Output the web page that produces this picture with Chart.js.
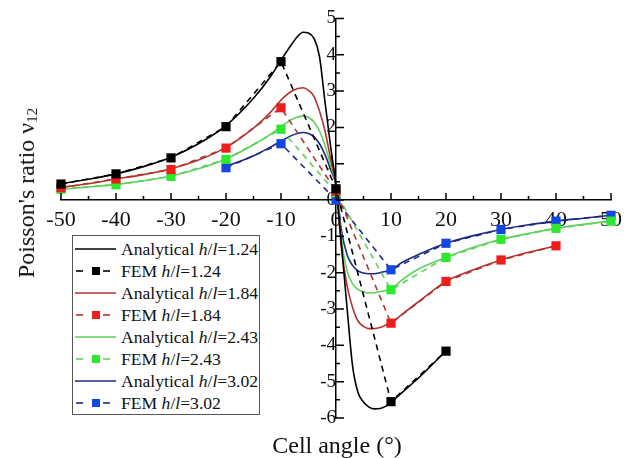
<!DOCTYPE html>
<html>
<head>
<meta charset="utf-8">
<script src="https://cdn.jsdelivr.net/npm/chart.js@4.4.0/dist/chart.umd.min.js"></script>
<style>
  body { margin: 0; background: #fff; }
  #wrap { position: relative; width: 632px; height: 458px; font-family: 'Liberation Serif', serif; }
  #chart { position: absolute; left: 0; top: 0; }
  .title { position: absolute; white-space: nowrap; font-size: 24px; color: #111; }
  #ytitle { left: 27px; top: 193px; transform: translate(-50%, -50%) rotate(-90deg); }
  #ytitle sub { font-size: 15px; vertical-align: -3px; }
  #xtitle { left: 337px; top: 445px; transform: translate(-50%, -50%); }
  #legend { position: absolute; left: 72px; top: 235px; width: 188px; height: 180px; box-sizing: border-box;
            border: 1px solid #555; background: #fff; padding-top: 2px; }
  .row { height: 22px; display: flex; align-items: center; font-size: 17.6px; color: #111; }
  .row svg { margin-left: 2px; margin-right: 5px; flex: none; }
</style>
</head>
<body>
<div id="wrap">
  <canvas id="chart" width="632" height="458"></canvas>
  <div id="ytitle" class="title">Poisson's ratio ν<sub>12</sub></div>
  <div id="xtitle" class="title">Cell angle (°)</div>
  <div id="legend"></div>
</div>
<script>
(function () {
  'use strict';

  /* ------------ 데이터 ------------ */
  const ratios = ['1.24', '1.84', '2.43', '3.02'];

  // FEM 결과 (사각형 + 점선)
  const femAngles124 = [-50, -40, -30, -20, -10, 0, 10, 20];
  const femNu124 = [0.44, 0.72, 1.16, 2.02, 3.81, 0.31, -5.55, -4.16];
  const femAngles184 = [-50, -40, -30, -20, -10, 0, 10, 20, 30, 40];
  const femNu184 = [0.34, 0.58, 0.84, 1.43, 2.54, 0.25, -3.39, -2.24, -1.65, -1.26];
  const femAngles243 = [-50, -40, -30, -20, -10, 0, 10, 20, 30, 40, 50];
  const femNu243 = [0.3, 0.42, 0.65, 1.12, 1.95, 0.2, -2.47, -1.58, -1.08, -0.78, -0.58];
  const femAngles302 = [-20, -10, 0, 10, 20, 30, 40, 50];
  const femNu302 = [0.89, 1.55, 0, -1.92, -1.19, -0.81, -0.58, -0.42];

  // 해석해 (실선)
  const anaAngles124 = [-50, -45, -40, -35, -30, -25, -20, -15, -12, -10, -8, -7, -6, -5, -4, -3, -2, -1, 0,
                        1, 2, 3, 4, 5, 6, 7, 8, 9, 10, 12, 15, 20];
  const anaNu124 = [0.45, 0.57, 0.72, 0.92, 1.18, 1.55, 2.05, 2.8, 3.38, 3.85, 4.3, 4.5, 4.62, 4.6, 4.45, 3.95, 2.7, 1.5, 0.4,
                    -1.25, -2.95, -4.55, -5.3, -5.56, -5.7, -5.75, -5.74, -5.68, -5.58, -5.3, -4.9, -4.15];
  const anaAngles184 = [-50, -45, -40, -35, -30, -25, -20, -15, -12, -10, -8, -6, -5, -4, -3, -2, -1, 0,
                        1, 2, 3, 4, 5, 6, 7, 8, 9, 10, 12, 15, 20, 25, 30, 35, 40];
  const anaNu184 = [0.35, 0.45, 0.58, 0.7, 0.86, 1.1, 1.45, 1.98, 2.4, 2.75, 3.0, 3.09, 3.02, 2.85, 2.45, 1.9, 1.15, 0.4,
                    -1.35, -2.35, -2.95, -3.33, -3.48, -3.54, -3.54, -3.51, -3.45, -3.39, -3.15, -2.8, -2.24, -1.92, -1.65, -1.44, -1.26];
  const anaAngles243 = [-50, -45, -40, -35, -30, -25, -20, -15, -12, -10, -8, -6, -5, -4, -3, -2, -1, 0,
                        1, 2, 3, 4, 5, 6, 7, 8, 10, 12, 15, 20, 25, 30, 35, 40, 45, 50];
  const anaNu243 = [0.3, 0.36, 0.43, 0.53, 0.66, 0.86, 1.13, 1.52, 1.8, 2.02, 2.22, 2.31, 2.28, 2.15, 1.9, 1.5, 0.98, 0.4,
                    -1.1, -1.95, -2.3, -2.46, -2.53, -2.56, -2.55, -2.52, -2.45, -2.2, -1.9, -1.58, -1.3, -1.08, -0.92, -0.78, -0.67, -0.58];
  const anaAngles302 = [-20, -15, -12, -10, -8, -6, -5, -4, -3, -2, -1, 0,
                        1, 2, 3, 4, 5, 6, 7, 8, 10, 12, 15, 20, 25, 30, 35, 40, 45, 50];
  const anaNu302 = [0.92, 1.22, 1.45, 1.62, 1.78, 1.86, 1.83, 1.74, 1.55, 1.25, 0.85, 0.4,
                    -0.85, -1.5, -1.8, -1.95, -2.01, -2.03, -2.03, -2.0, -1.92, -1.72, -1.5, -1.19, -0.98, -0.81, -0.68, -0.58, -0.5, -0.42];

  const xTicks = [-50, 50, 10];
  const yTicks = [-6, 5, 1];

  /* ------------ 색상 / 폰트 ------------ */
  const LINE = ['#000000', '#b3342c', '#5cd25a', '#1c2a82'];
  const MARK = ['#000000', '#ee1d1d', '#2ee830', '#1347e2'];
  Chart.defaults.font.family = 'Liberation Serif';
  Chart.defaults.color = '#111';

  const pts = (xs, ys) => xs.map((x, i) => ({ x, y: ys[i] }));
  const femSets = [[femAngles124, femNu124], [femAngles184, femNu184], [femAngles243, femNu243], [femAngles302, femNu302]];
  const anaSets = [[anaAngles124, anaNu124], [anaAngles184, anaNu184], [anaAngles243, anaNu243], [anaAngles302, anaNu302]];

  const datasets = [];
  ratios.forEach((r, i) => {
    datasets.push({
      label: 'Analytical h/l=' + r,
      data: pts(anaSets[i][0], anaSets[i][1]),
      borderColor: LINE[i],
      borderWidth: 1.6,
      pointRadius: 0,
      cubicInterpolationMode: 'monotone',
      clip: false,
      order: 2
    });
    datasets.push({
      label: 'FEM h/l=' + r,
      data: pts(femSets[i][0], femSets[i][1]),
      borderColor: LINE[i],
      borderWidth: 1.6,
      borderDash: [6, 5],
      tension: 0,
      pointStyle: 'rect',
      pointRadius: 6.5,
      pointBackgroundColor: MARK[i],
      pointBorderColor: MARK[i],
      pointBorderWidth: 0,
      clip: false,
      order: 1
    });
  });

  /* ------------ 눈금 (축 안쪽) ------------ */
  const innerTicks = {
    id: 'innerTicks',
    afterDraw(chart) {
      const { x, y } = chart.scales;
      const ctx = chart.ctx;
      const y0 = y.getPixelForValue(0);
      const x0 = x.getPixelForValue(0);
      ctx.save();
      ctx.strokeStyle = '#000';
      ctx.lineWidth = 1.5;
      ctx.beginPath();
      for (let v = xTicks[0]; v <= xTicks[1]; v += xTicks[2] / 2) {
        const px = x.getPixelForValue(v);
        const len = v % xTicks[2] === 0 ? 7 : 4;
        ctx.moveTo(px, y0);
        ctx.lineTo(px, y0 - len);
      }
      for (let v = yTicks[0]; v <= yTicks[1]; v += yTicks[2] / 2) {
        const py = y.getPixelForValue(v);
        const len = v % yTicks[2] === 0 ? 8 : 4;
        ctx.moveTo(x0, py);
        ctx.lineTo(x0 + len, py);
      }
      ctx.stroke();
      ctx.restore();
    }
  };

  new Chart(document.getElementById('chart').getContext('2d'), {
    type: 'line',
    data: { datasets },
    plugins: [innerTicks],
    options: {
      responsive: false,
      animation: false,
      layout: { padding: { left: 61, right: 21, top: 15, bottom: 40 } },
      plugins: { legend: { display: false }, tooltip: { enabled: false } },
      scales: {
        x: {
          type: 'linear',
          position: { y: 0 },
          min: xTicks[0], max: xTicks[1],
          ticks: { stepSize: xTicks[2], font: { family: 'Liberation Serif', size: 22 }, color: '#111', padding: 7, maxRotation: 0 },
          grid: { drawOnChartArea: false, drawTicks: false },
          border: { color: '#000', width: 1.5 }
        },
        y: {
          type: 'linear',
          position: { x: 0 },
          min: yTicks[0], max: yTicks[1],
          ticks: { stepSize: yTicks[2], font: { family: 'Liberation Serif', size: 19 }, color: '#111', padding: 7 },
          grid: { drawOnChartArea: false, drawTicks: false },
          border: { color: '#000', width: 1.5 }
        }
      }
    }
  });

  /* ------------ 범례 (h/l 이탤릭) ------------ */
  const legend = document.getElementById('legend');
  ratios.forEach((r, i) => {
    const a = document.createElement('div');
    a.className = 'row';
    a.innerHTML = '<svg width="41" height="10"><line x1="0" y1="5" x2="41" y2="5" stroke="' + LINE[i] + '" stroke-width="1.6"/></svg>' +
      '<span>Analytical <i>h</i>/<i>l</i>=' + r + '</span>';
    legend.appendChild(a);
    const f = document.createElement('div');
    f.className = 'row';
    f.innerHTML = '<svg width="41" height="10"><line x1="1" y1="5" x2="8" y2="5" stroke="' + LINE[i] + '" stroke-width="1.6"/>' +
      '<rect x="17" y="1" width="8" height="8" fill="' + MARK[i] + '"/>' +
      '<line x1="28" y1="5" x2="35" y2="5" stroke="' + LINE[i] + '" stroke-width="1.6"/></svg>' +
      '<span>FEM <i>h</i>/<i>l</i>=' + r + '</span>';
    legend.appendChild(f);
  });
})();
</script>
</body>
</html>
